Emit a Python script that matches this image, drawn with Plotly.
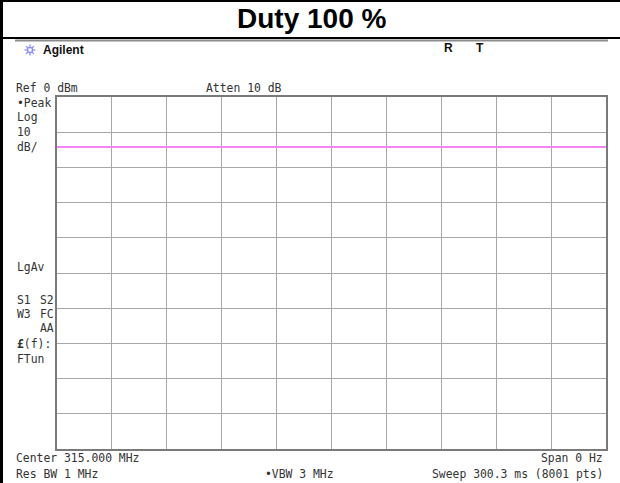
import math
import plotly.graph_objects as go

# ---- data ----
sweep_ms = [0.0, 300.3]          # zero-span sweep time axis (ms)
level_dbm = [-14.2, -14.2]       # measured trace level (dBm)
ref_level_dbm = 0
db_per_div = 10
n_div = 10
sweep_time_ms = 300.3

title_text = "Duty 100 %"
left_labels = [("•Peak", 102.5), ("Log", 117), ("10", 132), ("dB/", 147), ("LgAv", 267)]
bottom_left = [("Center 315.000 MHz", 458), ("Res BW 1 MHz", 474)]
bottom_right = [("Span 0 Hz", 458), ("Sweep 300.3 ms (8001 pts)", 474)]

# ---- layout geometry (pixels) ----
W, H = 620, 483
PL, PR, PT, PB = 57, 606, 97, 449


def px(x):
    return (x - PL) / (PR - PL)


def py(y):
    return (PB - y) / (PB - PT)


MONO = "DejaVu Sans Mono"
FS = 11.4
TC = "#333333"

fig = go.Figure()
fig.add_trace(go.Scatter(
    x=sweep_ms, y=level_dbm, mode="lines",
    line=dict(color="#f584f5", width=2),
    hoverinfo="skip", showlegend=False,
))

axis_common = dict(
    showgrid=True, gridcolor="#a8a8a8", gridwidth=1,
    showticklabels=False, ticks="", zeroline=False,
    showline=True, linecolor="#7a7a7a", linewidth=2, mirror=True,
    fixedrange=True,
)
fig.update_xaxes(range=[0, sweep_time_ms], tick0=0, dtick=sweep_time_ms / n_div, **axis_common)
fig.update_yaxes(range=[ref_level_dbm - db_per_div * n_div, ref_level_dbm], tick0=0,
                 dtick=db_per_div, **axis_common)

ann = []


def text(x, y, s, anchor="left", size=FS, family=MONO, color=TC):
    ann.append(dict(x=px(x), y=py(y), xref="paper", yref="paper", text=s,
                    showarrow=False, xanchor=anchor, yanchor="middle",
                    font=dict(family=family, size=size, color=color)))


# title
text(311, 18, "<b>" + title_text + "</b>", anchor="center", size=28,
     family="Liberation Sans, Arial", color="#000000")
# header
text(41, 50, "<b>Agilent</b>", size=12, family="Liberation Sans, Arial", color="#111111")
text(442, 48, "<b>R</b>", size=12, family="Liberation Sans, Arial", color="#111111")
text(474, 48, "<b>T</b>", size=12, family="Liberation Sans, Arial", color="#111111")
# top row
text(14, 88, "Ref 0 dBm")
text(204, 88, "Atten 10 dB")
# left column
for s, y in left_labels:
    text(15, y, s)
text(15, 300, "S1")
text(56, 300, "S2", anchor="right")
text(15, 314, "W3")
text(56, 314, "FC", anchor="right")
text(56, 328, "AA", anchor="right")
text(15, 344, "<b>£</b>(f):")
text(15, 359, "FTun")
# bottom
for s, y in bottom_left:
    text(14, y, s)
for s, y in bottom_right:
    text(605, y, s, anchor="right")
text(263, 474, "•VBW 3 MHz")

shapes = []


def line(x0, y0, x1, y1, color, width):
    shapes.append(dict(type="line", xref="paper", yref="paper",
                       x0=px(x0), y0=py(y0), x1=px(x1), y1=py(y1),
                       line=dict(color=color, width=width)))


# frame of the slide
line(0, 1, 620, 1, "#000000", 2)
line(1.5, 0, 1.5, 483, "#000000", 3)
line(0, 38, 620, 38, "#000000", 2)
line(15, 40.5, 608, 40.5, "#8c8c8c", 2)

# Agilent star logo
cx, cy, r = 30, 50, 5.5
for a in (0, 45, 90, 135):
    dx = r * math.cos(math.radians(a))
    dy = r * math.sin(math.radians(a))
    line(cx - dx, cy - dy, cx + dx, cy + dy, "#8c8cff", 1.3)
shapes.append(dict(type="rect", xref="paper", yref="paper",
                   x0=px(cx - 2.2), x1=px(cx + 2.2), y0=py(cy + 2.2), y1=py(cy - 2.2),
                   line=dict(color="#7070ff", width=1), fillcolor="#ffffff"))

fig.update_layout(
    width=W, height=H,
    margin=dict(l=PL, r=W - PR, t=PT, b=H - PB, pad=0),
    paper_bgcolor="#ffffff", plot_bgcolor="#ffffff",
    annotations=ann, shapes=shapes, showlegend=False,
)

fig.write_html(
    "out.html",
    config={"displayModeBar": False},
    post_script="document.documentElement.style.margin='0';"
                "document.body.style.margin='0';"
                "document.body.style.overflow='hidden';",
)
